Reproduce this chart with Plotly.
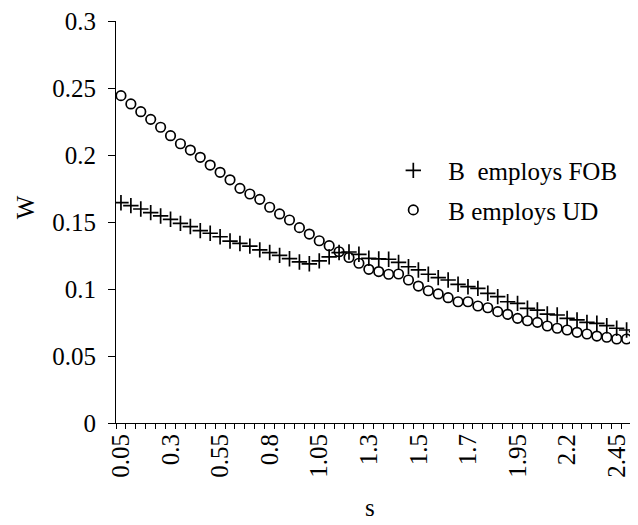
import plotly.graph_objects as go

# x categories (s values) as they appear on the category axis
s_values = ([round(0.05 * (i + 1), 2) for i in range(26)]
            + [1.34, 1.38, 1.42, 1.46, 1.5, 1.54, 1.58, 1.62, 1.66, 1.7]
            + [1.75, 1.8, 1.85, 1.9, 1.95, 2.0, 2.05, 2.1, 2.15, 2.2,
               2.25, 2.3, 2.35, 2.4, 2.45, 2.5, 2.55])
s_labels = [f"{v:g}" for v in s_values]

w_fob = [0.1644, 0.1622, 0.1597, 0.1570, 0.1545, 0.1520, 0.1490, 0.1466, 0.1436, 0.1416,
         0.1390, 0.1358, 0.1340, 0.1320, 0.1292, 0.1272, 0.1251, 0.1226, 0.1202, 0.1188,
         0.1210, 0.1240, 0.1272, 0.1276, 0.1259, 0.1229, 0.1225, 0.1222, 0.1199, 0.1166,
         0.1142, 0.1110, 0.1085, 0.1067, 0.1035, 0.1017, 0.1005, 0.0968, 0.0943, 0.0905,
         0.0893, 0.0856, 0.0843, 0.0813, 0.0806, 0.0781, 0.0769, 0.0751, 0.0744, 0.0726,
         0.0707, 0.0694, 0.0681]

w_ud = [0.2443, 0.2381, 0.2323, 0.2266, 0.2207, 0.2144, 0.2084, 0.2037, 0.1983, 0.1925,
        0.1871, 0.1815, 0.1751, 0.1709, 0.1669, 0.1610, 0.1560, 0.1515, 0.1458, 0.1410,
        0.1360, 0.1323, 0.1278, 0.1235, 0.1192, 0.1147, 0.1130, 0.1110, 0.1112, 0.1067,
        0.1022, 0.0987, 0.0963, 0.0935, 0.0905, 0.0905, 0.0873, 0.0860, 0.0831, 0.0811,
        0.0781, 0.0763, 0.0751, 0.0724, 0.0707, 0.0694, 0.0677, 0.0664, 0.0649, 0.0640,
        0.0627, 0.0627, 0.0617]

series_names = ["B\u00a0 employs FOB", "B employs UD"]
y_ticks = [0, 0.05, 0.1, 0.15, 0.2, 0.25, 0.3]

FONT = "Liberation Serif, Times New Roman, serif"
FS = 25

fig = go.Figure()
fig.add_trace(go.Scatter(
    x=s_labels, y=w_fob, mode="markers", name=series_names[0], legendgroup="a",
    marker=dict(symbol="cross-thin-open", size=11, color="black",
                line=dict(color="black", width=1.7)),
))
fig.add_trace(go.Scatter(
    x=s_labels, y=w_ud, mode="markers", name=series_names[1], legendgroup="b",
    marker=dict(symbol="circle-open", size=9.5, color="black",
                line=dict(color="black", width=1.7)),
))

# the page body adds an 8px offset; the figure is sized to fill the rest
fig.update_layout(
    width=630, height=517,
    margin=dict(l=108, r=0, t=13, b=102, autoexpand=False),
    paper_bgcolor="white", plot_bgcolor="white",
    font=dict(family=FONT, size=FS, color="black"),
    showlegend=True,
    legend=dict(x=0.5025, y=0.685, xanchor="left", yanchor="top",
                bgcolor="rgba(0,0,0,0)", font=dict(size=FS, family=FONT),
                itemwidth=60, tracegroupgap=4),
    xaxis=dict(
        type="category", range=[-0.5, 52.15], automargin=False,
        tickmode="array", tickvals=s_labels,
        ticktext=[lab if i % 5 == 0 else "" for i, lab in enumerate(s_labels)],
        tickson="boundaries", ticks="outside", ticklen=5, tickcolor="black",
        tickangle=-90, showline=True, linecolor="black", linewidth=1,
        showgrid=False, zeroline=False, ticklabeloverflow="allow",
        tickfont=dict(size=FS, family=FONT),
    ),
    yaxis=dict(
        range=[0, 0.3], tickvals=y_ticks, ticks="outside", ticklen=7,
        automargin=False, ticklabelstandoff=7, ticklabeloverflow="allow",
        tickcolor="black", showline=True, linecolor="black", linewidth=1,
        showgrid=False, zeroline=False, tickfont=dict(size=FS, family=FONT),
    ),
    annotations=[
        dict(text="W", xref="paper", yref="paper", x=-0.1743, y=0.537,
             showarrow=False, textangle=-90, xanchor="center", yanchor="middle",
             font=dict(size=FS, family=FONT)),
        dict(text="s", xref="paper", yref="paper", x=0.4866, y=-0.2488,
             showarrow=False, xanchor="center", yanchor="bottom",
             font=dict(size=FS, family=FONT)),
    ],
)

fig.write_html("out.html")
